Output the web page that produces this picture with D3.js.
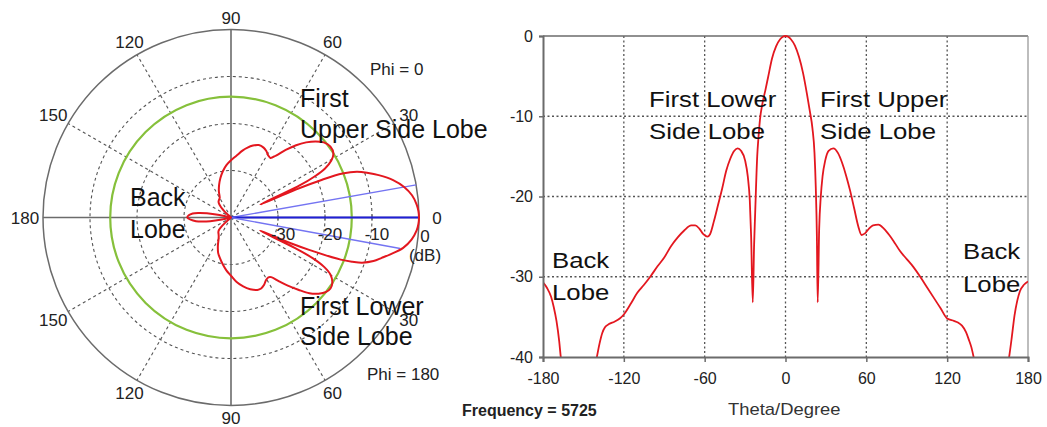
<!DOCTYPE html>
<html>
<head>
<meta charset="utf-8">
<script src="https://cdn.jsdelivr.net/npm/d3@7"></script>
<style>
  body { margin: 0; background: #fff; }
  text { font-family: "Liberation Sans", Arial, Helvetica, sans-serif; }
</style>
</head>
<body>
<div id="vis"></div>
<script>
// radiation pattern (theta in degrees, gain in dB)
const thetaDeg = [
  -180, -177, -174, -172, -170, -168, -166.8, -165, -155, -143, -140, -138, -136, -134, -131,
  -127, -123, -120, -115, -110, -105, -100, -95, -90, -85, -80, -75, -70, -67, -64, -61, -58,
  -56, -53, -50, -47, -44, -41, -38, -35.5, -33, -30, -28, -26.5, -25.5, -24.3, -23.3, -22.5,
  -21, -20, -19, -17, -15, -13, -10, -7, -4, -2, 0,
  2, 4, 7, 10, 13, 16, 18, 20, 21.5, 22.5, 23.3, 23.9, 25, 26.2, 27.5, 29.5, 32, 35.5, 39,
  42, 45, 48, 51, 54, 56.5, 59, 62, 65, 69, 73, 77, 80, 85, 90, 95, 100, 105, 110, 115, 120,
  125, 128, 131, 134, 136, 138, 140, 143, 155, 164, 166, 168, 170, 172, 174, 177, 180
];
const gainDb = [
  -30.7, -31.4, -32.5, -33.8, -35.5, -38.0, -40.0, -42, -46, -43, -40.0, -38.3, -37.0, -36.3, -35.9,
  -35.6, -35.2, -34.7, -33.4, -32.0, -31.0, -29.9, -28.7, -27.6, -26.2, -25.1, -24.2, -23.6, -23.6, -24.0, -24.7, -25.0,
  -24.7, -23.0, -21.0, -19.0, -16.8, -15.3, -14.3, -14.0, -14.3, -15.5, -17.5, -20.5, -25, -33.2, -26, -22,
  -15, -12.5, -10.5, -8.3, -6.8, -5.2, -2.8, -1.3, -0.4, -0.1, 0,
  -0.1, -0.4, -1.2, -2.6, -4.6, -7.3, -9.3, -11.5, -14.5, -19, -25, -33.2, -24, -20, -17.5, -15.5, -14.3, -14.0, -14.6,
  -15.8, -17.4, -19.3, -21.5, -23.7, -24.8, -24.6, -24.0, -23.6, -23.5, -24.0, -24.8, -25.5, -26.8, -27.8, -28.8, -30.0, -31.3, -32.6, -33.9, -35.2,
  -35.5, -35.7, -36.1, -36.9, -37.8, -38.8, -40.3, -43, -46, -42, -40.0, -37.5, -34.8, -33.0, -31.8, -31.0, -30.6
];

const xTicks = [-180, -120, -60, 0, 60, 120, 180];
const yTicks = [0, -10, -20, -30, -40];
const ringDb = [-30, -20, -10];
const spokeAngles = [30, 60, 120, 150, 210, 240, 300, 330];
const polarAngles = [0, 30, 60, 90, 120, 150, 180, 210, 240, 270, 300, 330];
const polarLabels = ["0", "30", "60", "90", "120", "150", "180", "150", "120", "90", "60", "30"];
const sideLobeLevel = -14.3;       // green reference circle
const beamTheta = [10, 0, -10.4];  // blue lines
const beamDb = [0, 0, -3.4];

const WIDTH = 1047, HEIGHT = 427;
const RED = "#e3171f", GRID = "#555", AXIS = "#6b6b6b";

const SVG = d3.select("#vis").append("svg")
  .attr("width", WIDTH).attr("height", HEIGHT)
  .style("display", "block");
SVG.append("rect").attr("width", WIDTH).attr("height", HEIGHT).attr("fill", "#fff");

const pattern = thetaDeg.map((t, i) => ({ theta: t, db: gainDb[i] }));

function addText(g, str, x, y, size, opts = {}) {
  return g.append("text")
    .attr("transform", `translate(${x},${y}) scale(${opts.sx || 1},1)`)
    .attr("text-anchor", opts.anchor || "start")
    .attr("font-size", size)
    .attr("font-weight", opts.weight || "normal")
    .attr("fill", opts.fill || "#111")
    .text(str);
}

// ---------------- polar plot ----------------
const cx = 231, cy = 217.5, R = 188;
const rScale = d3.scaleLinear().domain([-40, 0]).range([0, R]).clamp(true);
const polar = SVG.append("g").attr("transform", `translate(${cx},${cy})`);
const rad = a => a * Math.PI / 180;

// dashed rings
polar.selectAll("circle.ring").data(ringDb).join("circle")
  .attr("class", "ring")
  .attr("r", d => rScale(d))
  .attr("fill", "none").attr("stroke", GRID).attr("stroke-width", 1.1)
  .attr("stroke-dasharray", "3,3");

// dashed spokes
polar.selectAll("line.spoke").data(spokeAngles).join("line")
  .attr("class", "spoke")
  .attr("x1", 0).attr("y1", 0)
  .attr("x2", d => R * Math.cos(rad(d)))
  .attr("y2", d => -R * Math.sin(rad(d)))
  .attr("stroke", GRID).attr("stroke-width", 1.1).attr("stroke-dasharray", "3,3");

// solid axes
polar.append("line").attr("x1", -R).attr("x2", R).attr("y1", 0).attr("y2", 0)
  .attr("stroke", AXIS).attr("stroke-width", 1.6);
polar.append("line").attr("x1", 0).attr("x2", 0).attr("y1", -R).attr("y2", R)
  .attr("stroke", AXIS).attr("stroke-width", 1.6);
polar.selectAll("line.rtick").data(ringDb).join("line")
  .attr("class", "rtick")
  .attr("x1", d => rScale(d)).attr("x2", d => rScale(d))
  .attr("y1", -3).attr("y2", 3).attr("stroke", AXIS).attr("stroke-width", 1.2);

// outer circle
polar.append("circle").attr("r", R).attr("fill", "none")
  .attr("stroke", AXIS).attr("stroke-width", 1.5);

// green side lobe level circle
polar.append("circle").attr("r", rScale(sideLobeLevel)).attr("fill", "none")
  .attr("stroke", "#86c03b").attr("stroke-width", 2.2);

// blue beam lines
polar.selectAll("line.beam").data(beamTheta).join("line")
  .attr("class", "beam")
  .attr("x1", 0).attr("y1", 0)
  .attr("x2", (d, i) => rScale(beamDb[i]) * Math.cos(rad(d)))
  .attr("y2", (d, i) => -rScale(beamDb[i]) * Math.sin(rad(d)))
  .attr("stroke", d => d === 0 ? "#1f1fd6" : "#7474f2")
  .attr("stroke-width", d => d === 0 ? 2 : 1.4);

// red pattern
const radial = d3.lineRadial()
  .angle(d => Math.PI / 2 - rad(d.theta))
  .radius(d => rScale(d.db))
  .curve(d3.curveCatmullRomClosed.alpha(0.5));
polar.append("path").datum(pattern.slice(0, -1))
  .attr("d", radial)
  .attr("fill", "none").attr("stroke", RED).attr("stroke-width", 2)
  .attr("stroke-linejoin", "round");

// angle labels
polarAngles.forEach((a, i) => {
  const lr = 200 + 6 * Math.abs(Math.cos(rad(a)));
  polar.append("text")
    .attr("x", lr * Math.cos(rad(a)))
    .attr("y", -lr * Math.sin(rad(a)))
    .attr("dy", "0.36em")
    .attr("text-anchor", "middle")
    .attr("font-size", 17).attr("fill", "#222")
    .text(polarLabels[i]);
});

// ring labels
ringDb.forEach(d => {
  polar.append("text").attr("x", rScale(d) + 5).attr("y", 22)
    .attr("text-anchor", "middle").attr("font-size", 17).attr("fill", "#222")
    .text(String(d));
});
addText(SVG, "0", 425, 242, 17, { anchor: "middle", fill: "#222" });
addText(SVG, "(dB)", 425, 261, 17, { anchor: "middle", fill: "#222" });
addText(SVG, "Phi = 0", 370, 75, 17, { fill: "#222" });
addText(SVG, "Phi = 180", 367, 380, 17, { fill: "#222" });

// polar annotations
addText(SVG, "First", 300, 107, 25);
addText(SVG, "Upper Side Lobe", 300, 138, 25);
addText(SVG, "Back", 130, 206, 25);
addText(SVG, "Lobe", 130, 238, 25);
addText(SVG, "First Lower", 300, 315, 25);
addText(SVG, "Side Lobe", 300, 345, 25);

// ---------------- cartesian plot ----------------
const x = d3.scaleLinear().domain([-180, 180]).range([543, 1028]);
const y = d3.scaleLinear().domain([-40, 0]).range([357, 36]);
const cart = SVG.append("g");

// dotted grid
cart.selectAll("line.vgrid").data(xTicks.slice(1, -1)).join("line")
  .attr("class", "vgrid")
  .attr("x1", d => x(d)).attr("x2", d => x(d))
  .attr("y1", y(0)).attr("y2", y(-40))
  .attr("stroke", GRID).attr("stroke-width", 1.3).attr("stroke-dasharray", "2,2.5");
cart.selectAll("line.hgrid").data(yTicks.slice(1, -1)).join("line")
  .attr("class", "hgrid")
  .attr("x1", x(-180)).attr("x2", x(180))
  .attr("y1", d => y(d)).attr("y2", d => y(d))
  .attr("stroke", GRID).attr("stroke-width", 1.3).attr("stroke-dasharray", "2,2.5");

// frame top / right
cart.append("line").attr("x1", x(-180)).attr("x2", x(180)).attr("y1", y(0)).attr("y2", y(0))
  .attr("stroke", AXIS).attr("stroke-width", 1.6);
cart.append("line").attr("x1", x(180)).attr("x2", x(180)).attr("y1", y(0)).attr("y2", y(-40))
  .attr("stroke", "#9a9a9a").attr("stroke-width", 1.3);

// clipped red line
SVG.append("clipPath").attr("id", "plotClip").append("rect")
  .attr("x", x(-180)).attr("y", y(0) - 3)
  .attr("width", x(180) - x(-180)).attr("height", y(-40) - y(0) + 3);
const line = d3.line()
  .x(d => x(d.theta)).y(d => y(d.db))
  .curve(d3.curveMonotoneX);
cart.append("path").datum(pattern)
  .attr("clip-path", "url(#plotClip)")
  .attr("d", line)
  .attr("fill", "none").attr("stroke", RED).attr("stroke-width", 1.8)
  .attr("stroke-linejoin", "round");

// axes
const ejeX = d3.axisBottom(x).tickValues(xTicks).tickSize(5).tickPadding(11).tickFormat(d => String(d));
const ejeY = d3.axisLeft(y).tickValues(yTicks).tickSize(4).tickPadding(6).tickFormat(d => String(d));
cart.append("g").attr("id", "ejeX").attr("transform", `translate(0,${y(-40)})`).call(ejeX);
cart.append("g").attr("id", "ejeY").attr("transform", `translate(${x(-180)},0)`).call(ejeY);
cart.selectAll("#ejeX path, #ejeY path").attr("stroke", AXIS).attr("stroke-width", 2);
cart.selectAll("#ejeX line, #ejeY line").attr("stroke", AXIS).attr("stroke-width", 1.5);
cart.selectAll("#ejeX text, #ejeY text")
  .attr("font-family", "'Liberation Sans', Arial, sans-serif")
  .attr("font-size", 16).attr("fill", "#222");

// annotations
addText(SVG, "First Lower", 649, 107, 23, { sx: 1.12 });
addText(SVG, "Side Lobe", 649, 139, 23, { sx: 1.12 });
addText(SVG, "First Upper", 820, 107, 23, { sx: 1.12 });
addText(SVG, "Side Lobe", 820, 139, 23, { sx: 1.12 });
addText(SVG, "Back", 552, 268, 23, { sx: 1.12 });
addText(SVG, "Lobe", 552, 300, 23, { sx: 1.12 });
addText(SVG, "Back", 963, 259, 23, { sx: 1.12 });
addText(SVG, "Lobe", 963, 292, 23, { sx: 1.12 });

addText(SVG, "Frequency = 5725", 462, 416, 16, { weight: "bold", fill: "#222" });
addText(SVG, "Theta/Degree", 728, 415, 16, { sx: 1.15, fill: "#333" });
</script>
</body>
</html>
